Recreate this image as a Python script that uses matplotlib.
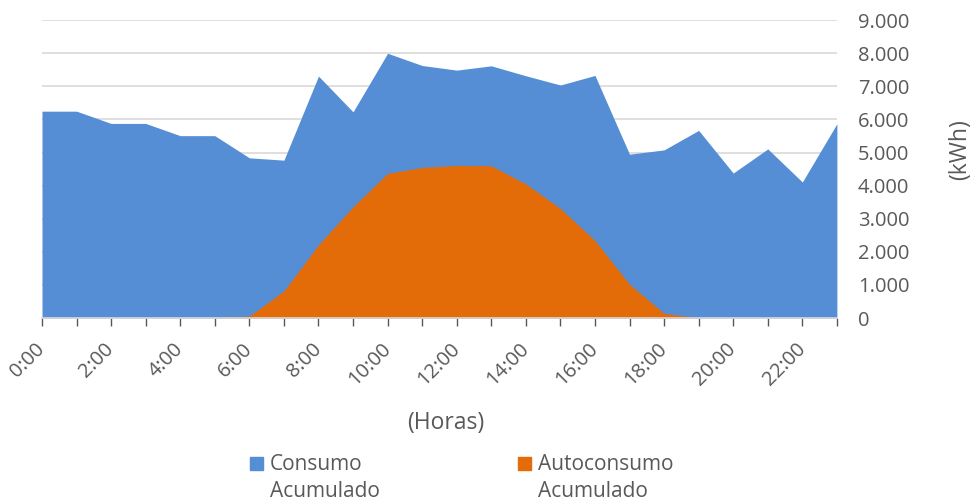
import matplotlib
matplotlib.use("Agg")
import matplotlib.pyplot as plt
import matplotlib.patches as mpatches
from matplotlib.ticker import FuncFormatter, MultipleLocator

# Hourly accumulated values (kWh)
horas = [f"{h}:00" for h in range(24)]
consumo = [6250, 6250, 5880, 5880, 5510, 5510, 4840, 4770, 7310, 6230, 8000, 7630,
           7490, 7620, 7320, 7040, 7330, 4950, 5080, 5670, 4380, 5110, 4110, 5870]
autoconsumo = [0, 0, 0, 0, 0, 0, 60, 820, 2210, 3360, 4370, 4550,
               4610, 4600, 4050, 3310, 2340, 1020, 140, 10, 0, 0, 0, 0]
series_names = [("Consumo", "Acumulado"), ("Autoconsumo", "Acumulado")]

BLUE = "#558ed5"
ORANGE = "#e36c09"
GREY_TXT = "#595959"
GRID = "#d9d9d9"
FS = 14.5

plt.rcParams['font.family'] = ['Open Sans', 'DejaVu Sans']
plt.rcParams['font.size'] = FS

fig = plt.figure(figsize=(9.72, 5.04), dpi=100)
ax = fig.add_axes([0.0432, 0.369, 0.8178, 0.591])

x = list(range(len(horas)))
ax.fill_between(x, 0, consumo, color=BLUE, linewidth=0)
ax.fill_between(x, 0, autoconsumo, color=ORANGE, linewidth=0)

ax.set_xlim(0, 23)
ax.set_ylim(0, 9000)

# y axis on the right, thousands with a dot
ax.yaxis.tick_right()
ax.yaxis.set_major_locator(MultipleLocator(1000))
ax.yaxis.set_major_formatter(FuncFormatter(lambda v, p: f"{int(v):,}".replace(",", ".")))
ax.tick_params(axis="y", length=0, pad=15, colors=GREY_TXT, labelsize=FS)
ax.text(1.155, 0.564, "(kWh)", transform=ax.transAxes, rotation=90,
        ha="center", va="center", color=GREY_TXT, fontsize=16.5)

ax.set_xticks(x)
ax.set_xticklabels([h if i % 2 == 0 else "" for i, h in enumerate(horas)],
                   rotation=45, ha="right", va="center", rotation_mode="anchor")
ax.tick_params(axis="x", direction="out", length=6, width=1,
               colors=GREY_TXT, labelsize=FS, pad=14)
for t in ax.xaxis.get_ticklines():
    t.set_color(GRID)
ax.text(0.508, -0.353, "(Horas)", transform=ax.transAxes,
        ha="center", va="center", color=GREY_TXT, fontsize=16.5)

ax.grid(axis="y", color=GRID, linewidth=1.2)
ax.set_axisbelow(True)
for side in ["top", "left", "right"]:
    ax.spines[side].set_visible(False)
ax.spines["bottom"].set_color(GRID)
ax.spines["bottom"].set_linewidth(1.2)

# legend below the chart, two-line labels with the square on the first line
for (line1, line2), color, x0 in zip(series_names, [BLUE, ORANGE], [0.2572, 0.5329]):
    fig.patches.append(mpatches.Rectangle((x0, 0.0675), 0.0134, 0.0258, color=color,
                                          transform=fig.transFigure, figure=fig))
    fig.text(x0 + 0.0206, 0.0675, line1, va="baseline", color=GREY_TXT, fontsize=15)
    fig.text(x0 + 0.0206, 0.0139, line2, va="baseline", color=GREY_TXT, fontsize=15)

fig.savefig("out.png", dpi=100)
